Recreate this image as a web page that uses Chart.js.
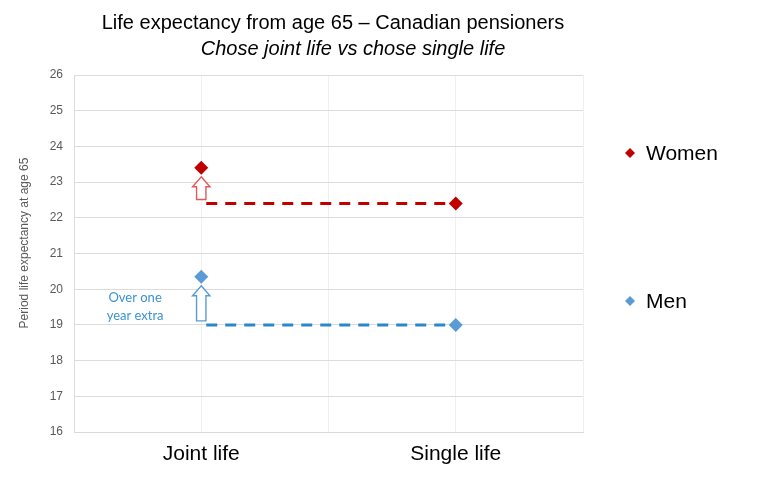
<!DOCTYPE html>
<html>
<head>
<meta charset="utf-8">
<script src="https://cdn.jsdelivr.net/npm/chart.js@4.4.1/dist/chart.umd.min.js"></script>
<style>
  body { margin: 0; background: #fff; }
  canvas { display: block; }
</style>
</head>
<body>
<canvas id="chart" width="770" height="482"></canvas>
<script>
// Data
const categories = ['Joint life', 'Single life'];
const categoryX = [1, 3];
const women = [23.4, 22.4];
const men = [20.35, 19.0];
const yTicks = [16, 17, 18, 19, 20, 21, 22, 23, 24, 25, 26];
const seriesNames = ['Women', 'Men'];
const noteLines = ['Over one', 'year extra'];

const red = '#c00000';
const blue = '#5b9bd5';
const dashRed = '#c00000';
const dashBlue = '#2a88c8';

function pts(values) {
  return values.map((v, i) => ({ x: categoryX[i], y: v }));
}
// single life value carried back to the joint life position
function flat(values) {
  return categoryX.map(x => ({ x: x, y: values[1] }));
}

// titles, y title, legend, arrows and note
const extras = {
  id: 'extras',
  afterDatasetsDraw(chart) {
    const ctx = chart.ctx;
    const xs = chart.scales.x, ys = chart.scales.y;
    ctx.save();

    // arrows from single life level up to joint life level
    const arrows = [
      { vals: women, color: '#e05a5a' },
      { vals: men, color: '#5b9bd5' }
    ];
    arrows.forEach(a => {
      const cx = xs.getPixelForValue(categoryX[0]);
      const bottom = ys.getPixelForValue(a.vals[1]) - 4;
      const tip = ys.getPixelForValue(a.vals[0]) + 9;
      const head = 10, hw = 8.7, sw = 4.7;
      ctx.beginPath();
      ctx.moveTo(cx, tip);
      ctx.lineTo(cx + hw, tip + head);
      ctx.lineTo(cx + sw, tip + head);
      ctx.lineTo(cx + sw, bottom);
      ctx.lineTo(cx - sw, bottom);
      ctx.lineTo(cx - sw, tip + head);
      ctx.lineTo(cx - hw, tip + head);
      ctx.closePath();
      ctx.fillStyle = '#fff';
      ctx.fill();
      ctx.lineWidth = 1.4;
      ctx.strokeStyle = a.color;
      ctx.stroke();
    });

    // note
    ctx.fillStyle = '#3a92d2';
    ctx.font = '13px Lato';
    ctx.textAlign = 'center';
    ctx.textBaseline = 'middle';
    const nx = xs.getPixelForValue(0.48);
    const ny = ys.getPixelForValue(19.5);
    ctx.fillText(noteLines[0], nx, ny - 9);
    ctx.fillText(noteLines[1], nx, ny + 9);

    // titles
    ctx.fillStyle = '#000';
    ctx.font = '20px "Liberation Sans", Arial';
    ctx.textBaseline = 'alphabetic';
    ctx.fillText('Life expectancy from age 65 \u2013 Canadian pensioners', 333, 29);
    ctx.font = 'italic 20px "Liberation Sans", Arial';
    ctx.fillText('Chose joint life vs chose single life', 353, 55);

    // y title
    ctx.save();
    ctx.translate(25, 243);
    ctx.rotate(-Math.PI / 2);
    ctx.fillStyle = '#595959';
    ctx.font = '12px "Liberation Sans", Arial';
    ctx.textBaseline = 'middle';
    ctx.fillText('Period life expectancy at age 65', 0, 0);
    ctx.restore();

    // legend
    const legend = [
      { name: seriesNames[0], color: red, y: 153 },
      { name: seriesNames[1], color: blue, y: 301 }
    ];
    legend.forEach(l => {
      ctx.fillStyle = l.color;
      ctx.beginPath();
      ctx.moveTo(630, l.y - 5);
      ctx.lineTo(635, l.y);
      ctx.lineTo(630, l.y + 5);
      ctx.lineTo(625, l.y);
      ctx.closePath();
      ctx.fill();
      ctx.fillStyle = '#000';
      ctx.font = '21px "Liberation Sans", Arial';
      ctx.textAlign = 'left';
      ctx.textBaseline = 'middle';
      ctx.fillText(l.name, 646, l.y + 1);
    });
    ctx.restore();
  }
};

new Chart(document.getElementById('chart'), {
  type: 'scatter',
  data: {
    datasets: [
      {
        label: seriesNames[0],
        data: pts(women),
        pointStyle: 'rectRot',
        pointRadius: 7,
        backgroundColor: red,
        borderColor: red,
        borderWidth: 0,
        order: 0
      },
      {
        label: seriesNames[1],
        data: pts(men),
        pointStyle: 'rectRot',
        pointRadius: 7,
        backgroundColor: blue,
        borderColor: blue,
        borderWidth: 0,
        order: 0
      },
      {
        data: flat(women),
        showLine: true,
        pointRadius: 0,
        borderColor: dashRed,
        borderWidth: 3,
        borderDash: [11, 8],
        borderDashOffset: -5,
        order: 1
      },
      {
        data: flat(men),
        showLine: true,
        pointRadius: 0,
        borderColor: dashBlue,
        borderWidth: 3,
        borderDash: [11, 8],
        borderDashOffset: -5,
        order: 1
      }
    ]
  },
  options: {
    responsive: false,
    animation: false,
    layout: { padding: { top: 75, right: 187, left: 0, bottom: 0 } },
    plugins: {
      legend: { display: false },
      tooltip: { enabled: false }
    },
    scales: {
      x: {
        type: 'linear',
        min: 0,
        max: 4,
        afterFit(scale) { scale.height = 50; },
        afterBuildTicks(scale) {
          scale.ticks = [0, 1, 2, 3, 4].map(v => ({ value: v }));
        },
        ticks: {
          padding: 10,
          color: '#000',
          font: { family: '"Liberation Sans", Arial', size: 21 },
          callback(v) {
            const i = categoryX.indexOf(v);
            return i >= 0 ? categories[i] : '';
          }
        },
        grid: { color: '#f0f0f0', drawTicks: false },
        border: { color: '#d9d9d9' }
      },
      y: {
        min: 16,
        max: 26,
        afterFit(scale) { scale.width = 74; },
        afterBuildTicks(scale) {
          scale.ticks = yTicks.map(v => ({ value: v }));
        },
        ticks: {
          padding: 11,
          color: '#595959',
          font: { family: '"Liberation Sans", Arial', size: 12 }
        },
        grid: { color: '#dcdcdc', drawTicks: false },
        border: { color: '#dcdcdc' }
      }
    }
  },
  plugins: [extras]
});
</script>
</body>
</html>
